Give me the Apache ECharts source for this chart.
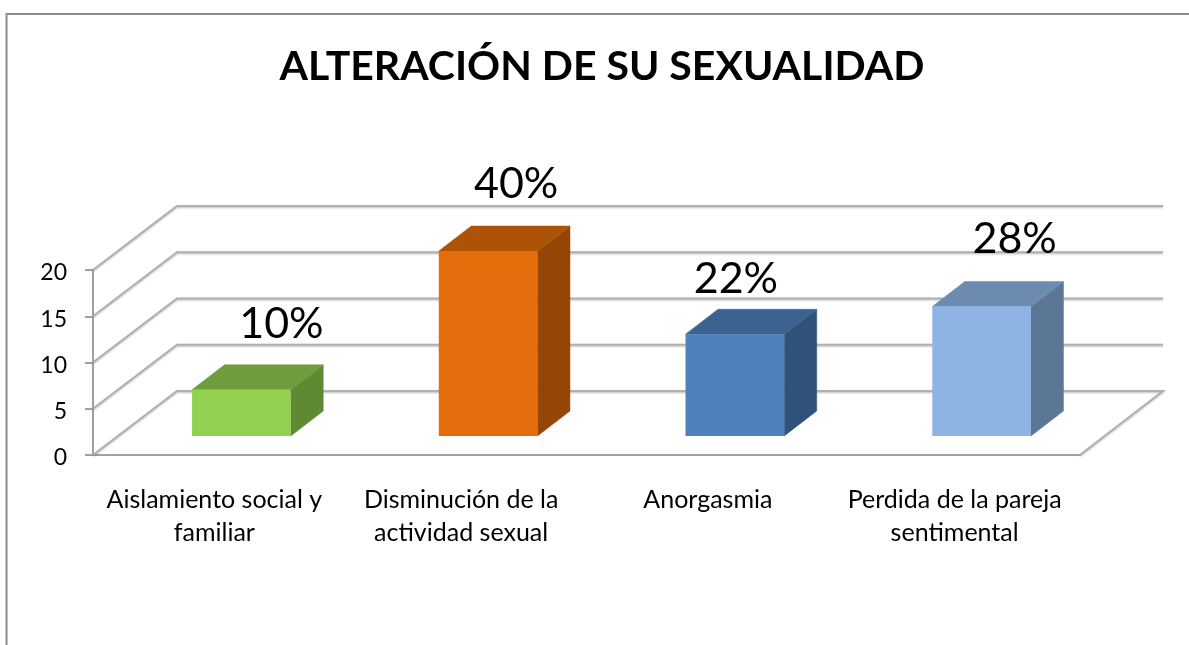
<!DOCTYPE html>
<html>
<head>
<meta charset="utf-8">
<style>html,body{margin:0;padding:0;background:#fff}#c{width:1189px;height:645px}</style>
<script src="https://cdn.jsdelivr.net/npm/echarts@6/dist/echarts.min.js"></script>
</head>
<body>
<div id="c"></div>
<script>
const titleText = 'ALTERACIÓN DE SU SEXUALIDAD';
const categories = ['Aislamiento social y\nfamiliar', 'Disminución de la\nactividad sexual', 'Anorgasmia', 'Perdida de la pareja\nsentimental'];
const values = [5, 20, 11, 14];
const percentLabels = ['10%', '40%', '22%', '28%'];
const yTicks = [0, 5, 10, 15, 20];

const frontColors = ['#92d050', '#e46c0a', '#4f81bd', '#8eb4e3'];
const topColors = ['#6f9c3d', '#ae5306', '#3b6391', '#6d8bb0'];
const sideColors = ['#5f8a33', '#954607', '#30527a', '#5c7696'];
const labelShift = [[40, -66], [28, -67], [1, -55], [33, -67]];

const FONT = 'Lato, "Open Sans", sans-serif';
const WALL_DX = 84, WALL_DY = 64, BAR_DX = 32.5, BAR_DY = 25, BAR_SHIFT_X = 25, BAR_SHIFT_Y = 19;
const GRID_COLOR = '#b0b0b0';

function renderWall(params, api) {
  const cs = params.coordSys;
  const v = api.value(0);
  const y = api.coord([0, v])[1];
  const x0 = cs.x, x1 = cs.x + cs.width;
  const pts = [[x0, y], [x0 + WALL_DX, y - WALL_DY], [x1 + WALL_DX - 1, y - WALL_DY]];
  if (v === 0) pts.push([x1, y]);
  return {
    type: 'polyline',
    shape: { points: pts },
    style: { fill: 'none', stroke: GRID_COLOR, lineWidth: 2, shadowBlur: 2, shadowColor: 'rgba(0,0,0,0.25)', shadowOffsetY: 1 }
  };
}

function renderBar(params, api) {
  const i = api.value(0);
  const v = api.value(1);
  const top = api.coord([i, v]);
  const base = api.coord([i, 0]);
  const w = api.size([1, 0])[0] * 0.4;
  const xl = top[0] - w / 2 + BAR_SHIFT_X, xr = xl + w;
  const yt = top[1] - BAR_SHIFT_Y, yb = base[1] - BAR_SHIFT_Y;
  const poly = (points, fill) => ({ type: 'polygon', shape: { points }, style: { fill, stroke: fill, lineWidth: 0.5 } });
  return {
    type: 'group',
    children: [
      poly([[xr, yt], [xr + BAR_DX, yt - BAR_DY], [xr + BAR_DX, yb - BAR_DY], [xr, yb]], sideColors[i]),
      poly([[xl, yt], [xl + BAR_DX, yt - BAR_DY], [xr + BAR_DX, yt - BAR_DY], [xr, yt]], topColors[i]),
      { type: 'rect', shape: { x: xl, y: yt, width: w, height: yb - yt }, style: { fill: frontColors[i] } },
      {
        type: 'text',
        z2: 10,
        style: {
          x: (xl + xr) / 2 + labelShift[i][0],
          y: yt + labelShift[i][1],
          text: percentLabels[i],
          align: 'center',
          verticalAlign: 'middle',
          fill: '#000',
          font: '43px ' + FONT
        }
      }
    ]
  };
}

const chart = echarts.init(document.getElementById('c'), null, { renderer: 'canvas' });
chart.setOption({
  animation: false,
  backgroundColor: '#fff',
  title: {
    text: titleText,
    left: 597,
    top: 41,
    textAlign: 'center',
    textStyle: { fontFamily: FONT, fontWeight: 'bold', fontSize: 41, color: '#000' }
  },
  grid: { left: 93, right: 109, top: 270, bottom: 190, containLabel: false },
  xAxis: {
    type: 'category',
    data: categories,
    axisLine: { show: true, lineStyle: { color: '#a0a0a0', width: 2 } },
    axisTick: { show: false },
    axisLabel: { color: '#000', fontFamily: FONT, fontSize: 25, lineHeight: 33, margin: 28, interval: 0, padding: [0, 4, 0, 0] }
  },
  yAxis: {
    type: 'value',
    min: 0,
    max: 20,
    interval: 5,
    axisLine: { show: true, lineStyle: { color: '#a0a0a0', width: 2 } },
    axisTick: { show: true, length: 8, lineStyle: { color: '#a0a0a0', width: 2 } },
    splitLine: { show: false },
    axisLabel: { color: '#000', fontFamily: FONT, fontSize: 23, margin: 26, verticalAlign: 'top', lineHeight: 6 }
  },
  graphic: [{
    type: 'polyline',
    silent: true,
    shape: { points: [[6.5, 645], [6.5, 14], [1189, 14]] },
    style: { fill: 'none', stroke: '#8c8c8c', lineWidth: 2 }
  }],
  series: [
    { type: 'custom', name: 'Paredes', renderItem: renderWall, data: yTicks.map(t => [t]), encode: { x: -1, y: 0 }, z: 1, silent: true, clip: false },
    { type: 'custom', name: 'Alteración', renderItem: renderBar, data: values.map((v, i) => [i, v]), encode: { x: 0, y: 1 }, z: 2, silent: true, clip: false }
  ]
});
</script>
</body>
</html>
